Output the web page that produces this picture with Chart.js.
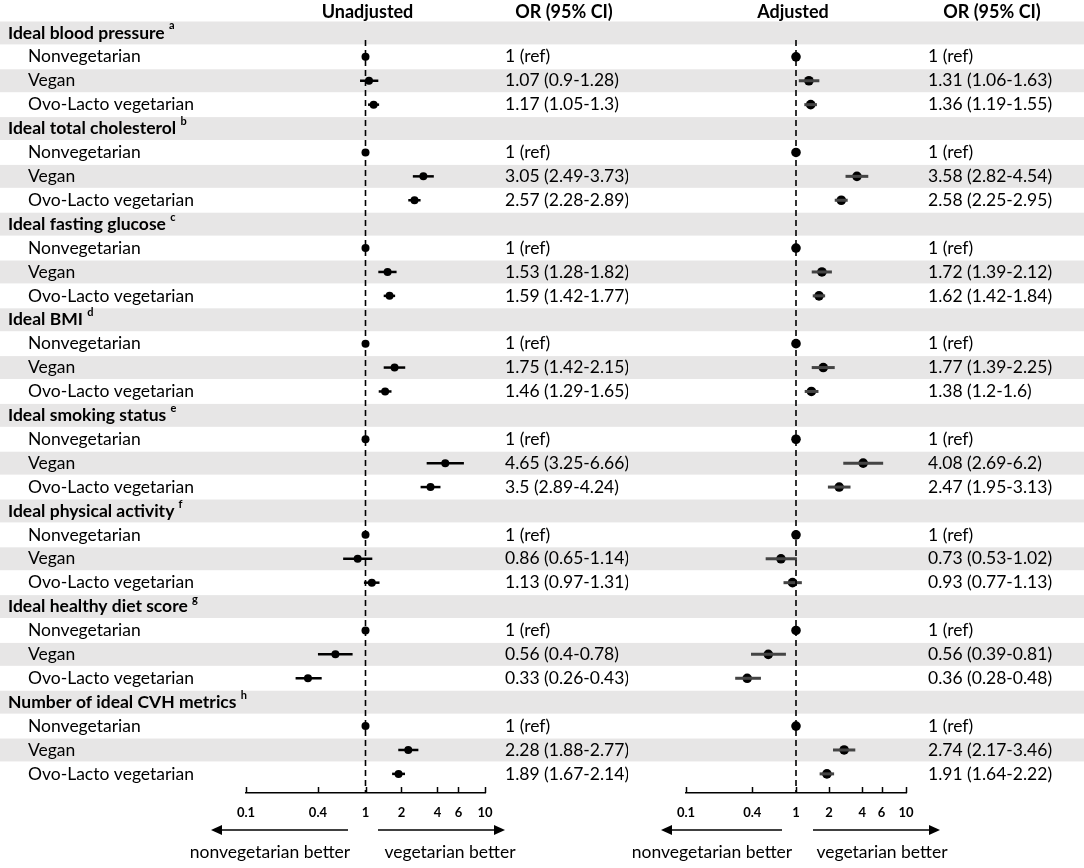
<!DOCTYPE html>
<html>
<head>
<meta charset="utf-8">
<script src="https://cdn.jsdelivr.net/npm/chart.js@4.4.1/dist/chart.umd.min.js"></script>
<style>
  body { margin: 0; background: #fff; }
  #wrap { position: relative; width: 1084px; height: 868px; overflow: hidden; }
  canvas { position: absolute; top: 0; }
</style>
</head>
<body>
<div id="wrap">
  <canvas id="leftChart" width="628" height="868" style="left:0"></canvas>
  <canvas id="rightChart" width="456" height="868" style="left:628px"></canvas>
</div>
<script>
// Données
const groups = ['Ideal blood pressure', 'Ideal total cholesterol', 'Ideal fasting glucose', 'Ideal BMI',
  'Ideal smoking status', 'Ideal physical activity', 'Ideal healthy diet score', 'Number of ideal CVH metrics'];
const superscripts = ['a', 'b', 'c', 'd', 'e', 'f', 'g', 'h'];
const subgroups = ['Nonvegetarian', 'Vegan', 'Ovo-Lacto vegetarian'];
const tickValues = [0.1, 0.4, 1, 2, 4, 6, 10];

// Non ajusté
const unadjVegan   = [1.07, 3.05, 1.53, 1.75, 4.65, 0.86, 0.56, 2.28];
const unadjVeganLo = [0.9, 2.49, 1.28, 1.42, 3.25, 0.65, 0.4, 1.88];
const unadjVeganHi = [1.28, 3.73, 1.82, 2.15, 6.66, 1.14, 0.78, 2.77];
const unadjOvo     = [1.17, 2.57, 1.59, 1.46, 3.5, 1.13, 0.33, 1.89];
const unadjOvoLo   = [1.05, 2.28, 1.42, 1.29, 2.89, 0.97, 0.26, 1.67];
const unadjOvoHi   = [1.3, 2.89, 1.77, 1.65, 4.24, 1.31, 0.43, 2.14];

// Ajusté
const adjVegan   = [1.31, 3.58, 1.72, 1.77, 4.08, 0.73, 0.56, 2.74];
const adjVeganLo = [1.06, 2.82, 1.39, 1.39, 2.69, 0.53, 0.39, 2.17];
const adjVeganHi = [1.63, 4.54, 2.12, 2.25, 6.2, 1.02, 0.81, 3.46];
const adjOvo     = [1.36, 2.58, 1.62, 1.38, 2.47, 0.93, 0.36, 1.91];
const adjOvoLo   = [1.19, 2.25, 1.42, 1.2, 1.95, 0.77, 0.28, 1.64];
const adjOvoHi   = [1.55, 2.95, 1.84, 1.6, 3.13, 1.13, 0.48, 2.22];

const FONT = 'Lato, "Noto Sans", sans-serif';
const STRIPE = '#e7e6e6';

// Construit les lignes : titre, ref, vegan, ovo-lacto
function buildRows(vegan, veganLo, veganHi, ovo, ovoLo, ovoHi) {
  const rows = [];
  groups.forEach((g, i) => {
    rows.push({ header: g, sup: superscripts[i] });
    rows.push({ label: subgroups[0], or: 1, text: '1 (ref)' });
    rows.push({ label: subgroups[1], or: vegan[i], lo: veganLo[i], hi: veganHi[i],
      text: vegan[i] + ' (' + veganLo[i] + '-' + veganHi[i] + ')' });
    rows.push({ label: subgroups[2], or: ovo[i], lo: ovoLo[i], hi: ovoHi[i],
      text: ovo[i] + ' (' + ovoLo[i] + '-' + ovoHi[i] + ')' });
  });
  return rows;
}

function drawArrow(ctx, x1, x2, y) {
  const dir = x2 > x1 ? 1 : -1;
  ctx.beginPath();
  ctx.moveTo(x1, y);
  ctx.lineTo(x2 - dir * 9, y);
  ctx.stroke();
  ctx.beginPath();
  ctx.moveTo(x2, y);
  ctx.lineTo(x2 - dir * 11, y - 5);
  ctx.lineTo(x2 - dir * 11, y + 5);
  ctx.closePath();
  ctx.fill();
}

function makeForest(canvasId, rows, cfg) {
  const ciData = rows.map((r, i) => ({ r, i })).filter(d => d.r.lo !== undefined);
  const datasets = [];

  // ligne verticale pointillée à OR = 1
  datasets.push({
    data: [{ x: 1, y: 0.3 }, { x: 1, y: 31.8 }],
    showLine: true, borderColor: '#000', borderWidth: 1.6, borderDash: [6, 4],
    pointRadius: 0
  });

  // intervalles de confiance
  ciData.forEach(d => {
    datasets.push({
      data: [{ x: d.r.lo, y: d.i }, { x: d.r.hi, y: d.i }],
      showLine: true, borderColor: cfg.ciColor, borderWidth: cfg.ciWidth, pointRadius: 0
    });
  });

  // points
  datasets.push({
    data: rows.map((r, i) => ({ x: r.or, y: i })).filter(p => p.x !== undefined),
    pointRadius: cfg.radius, backgroundColor: '#000', borderColor: '#000', borderWidth: 0
  });

  const stripes = {
    id: 'stripes',
    beforeDraw(chart) {
      const { ctx, scales: { y } } = chart;
      const h = Math.abs(y.getPixelForValue(1) - y.getPixelForValue(0));
      ctx.save();
      ctx.fillStyle = STRIPE;
      rows.forEach((r, i) => {
        if (i % 2 === 0) {
          const cy = y.getPixelForValue(i);
          ctx.fillRect(0, cy - h / 2 + 0.5, chart.width, h - 1);
        }
      });
      ctx.restore();
    }
  };

  const texts = {
    id: 'texts',
    afterDraw(chart) {
      const { ctx, chartArea, scales: { x, y } } = chart;
      ctx.save();
      ctx.fillStyle = '#000';
      ctx.strokeStyle = '#000';

      // petites graduations vers le haut
      ctx.lineWidth = 1.5;
      tickValues.forEach(v => {
        const px = Math.round(x.getPixelForValue(v)) + 0.5;
        ctx.beginPath();
        ctx.moveTo(px, chartArea.bottom);
        ctx.lineTo(px, chartArea.bottom - 6);
        ctx.stroke();
      });

      // en-têtes de colonnes
      ctx.textBaseline = 'middle';
      ctx.textAlign = 'center';
      ctx.font = 'bold 18px ' + FONT;
      ctx.fillText(cfg.title, x.getPixelForValue(1) + cfg.titleShift, 12);
      ctx.fillText('OR (95% CI)', cfg.orHeaderX, 12);

      rows.forEach((r, i) => {
        const cy = y.getPixelForValue(i);
        ctx.textAlign = 'left';
        if (r.header) {
          if (cfg.labels) {
            ctx.font = 'bold 17.5px ' + FONT;
            ctx.fillText(r.header, 8, cy);
            const w = ctx.measureText(r.header + ' ').width;
            ctx.font = 'bold 11px ' + FONT;
            ctx.fillText(r.sup, 8 + w, cy - 7);
          }
        } else {
          ctx.font = '17.5px ' + FONT;
          if (cfg.labels) ctx.fillText(r.label, 28, cy);
          ctx.fillText(r.text, cfg.orX, cy);
        }
      });

      // flèches et légendes du bas
      ctx.lineWidth = 1.5;
      drawArrow(ctx, cfg.arrowL[0], cfg.arrowL[1], 830);
      drawArrow(ctx, cfg.arrowR[0], cfg.arrowR[1], 830);
      ctx.textAlign = 'center';
      ctx.font = '17.5px ' + FONT;
      ctx.fillText('nonvegetarian better', cfg.textL, 852);
      ctx.fillText('vegetarian better', cfg.textR, 852);
      ctx.restore();
    }
  };

  return new Chart(document.getElementById(canvasId), {
    type: 'scatter',
    data: { datasets },
    options: {
      responsive: false,
      animation: false,
      events: [],
      layout: { padding: { left: cfg.padLeft, right: cfg.padRight, top: 21, bottom: 0 } },
      plugins: { legend: { display: false }, tooltip: { enabled: false } },
      scales: {
        x: {
          type: 'logarithmic',
          min: 0.1,
          max: 10,
          afterBuildTicks: (scale) => { scale.ticks = tickValues.map(v => ({ value: v })); },
          afterFit: (scale) => { scale.height = 75; },
          ticks: {
            autoSkip: false, maxRotation: 0, padding: 12, color: '#000',
            font: { family: FONT, size: 13, weight: 'bold' },
            callback: (v) => String(v)
          },
          grid: { display: true, drawOnChartArea: false, drawTicks: false },
          border: { display: true, color: '#000', width: 1.5 }
        },
        y: {
          type: 'linear', display: false, reverse: true, min: -0.5, max: 31.8
        }
      }
    },
    plugins: [stripes, texts]
  });
}

makeForest('leftChart',
  buildRows(unadjVegan, unadjVeganLo, unadjVeganHi, unadjOvo, unadjOvoLo, unadjOvoHi),
  { title: 'Unadjusted', titleShift: 2, labels: true, orX: 505, orHeaderX: 564, padLeft: 246, padRight: 143,
    ciColor: '#000', ciWidth: 2.5, radius: 4,
    arrowL: [348, 211], arrowR: [378, 505], textL: 270, textR: 450 });

makeForest('rightChart',
  buildRows(adjVegan, adjVeganLo, adjVeganHi, adjOvo, adjOvoLo, adjOvoHi),
  { title: 'Adjusted', titleShift: -3, labels: false, orX: 300, orHeaderX: 364, padLeft: 58, padRight: 178,
    ciColor: '#444', ciWidth: 3, radius: 4.8,
    arrowL: [154, 33], arrowR: [185, 312], textL: 84, textR: 254 });
</script>
</body>
</html>
